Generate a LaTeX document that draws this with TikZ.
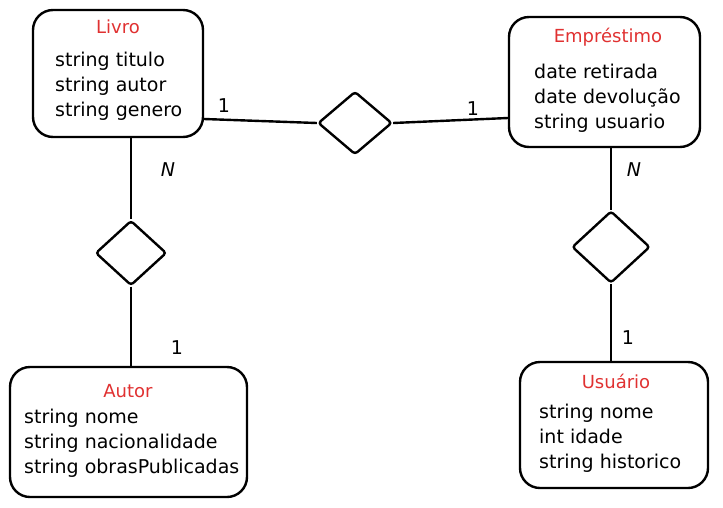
\documentclass[tikz,border=0pt]{standalone}
\usepackage{fontspec}
\setmainfont{DejaVu Sans}
\usetikzlibrary{shapes.geometric}
\definecolor{titlered}{HTML}{E03131}
\tikzset{
  entbox/.style={draw, line width=2.4pt, rounded corners=20pt, inner sep=0pt},
  relbox/.style={draw, diamond, line width=2.4pt, rounded corners=3pt, inner sep=0pt},
  enttitle/.style={text=titlered, font=\fontsize{18}{20}\selectfont},
  attrs/.style={anchor=west, align=left, inner sep=0pt, font=\fontsize{19}{25}\selectfont},
  card/.style={font=\fontsize{19}{21}\selectfont, inner sep=1pt},
  conn/.style={line width=2.4pt}
}
\begin{document}
\begin{tikzpicture}[x=1pt,y=-1pt]
        \useasboundingbox (0,0) rectangle (723,507);
        % entidades
        \node[entbox, minimum width=170, minimum height=127] (livro) at (118,73.5) {};
        \node[enttitle] (livrotitle) at (118,27) {Livro};
        \node[attrs] (livroattr) at (55,86) {string titulo\\string autor\\string genero};
        \node[entbox, minimum width=191, minimum height=130] (emprest) at (604.5,82) {};
        \node[enttitle] (emprestitle) at (608,37) {Empréstimo};
        \node[attrs] (emprestattr) at (534,98) {date retirada\\date devolução\\string usuario};
        \node[entbox, minimum width=237, minimum height=130] (autor) at (128.5,432) {};
        \node[enttitle] (autortitle) at (128,391) {Autor};
        \node[attrs] (autorattr) at (24,443) {string nome\\string nacionalidade\\string obrasPublicadas};
        \node[entbox, minimum width=188, minimum height=126] (usuario) at (614,425) {};
        \node[enttitle] (usuariotitle) at (616,381) {Usuário};
        \node[attrs] (usuarioattr) at (539,438) {string nome\\int idade\\string historico};
        % relacionamentos
        \node[relbox, minimum width=74, minimum height=63] (relemp) at (355,123) {};
        \node[relbox, minimum width=78, minimum height=72] (relusu) at (611,247) {};
        \node[relbox, minimum width=71, minimum height=65] (relaut) at (131,253) {};
        % ligacoes
        \draw[conn] (livro.east |- 0,119) -- (relemp.west);
        \draw[conn] (relemp.east) -- (emprest.west |- 0,118);
        \draw[conn] (relaut.north |- livro.south) -- (relaut.north);
        \draw[conn] (relaut.south) -- (relaut.south |- autor.north);
        \draw[conn] (relusu.north |- emprest.south) -- (relusu.north);
        \draw[conn] (relusu.south) -- (relusu.south |- usuario.north);
        % cardinalidades
        \node[card] (cardlivro) at (224,106) {1};
        \node[card] (cardemp) at (473,109) {1};
        \node[card] (cardlivron) at (168,170) {\itshape N};
        \node[card] (cardautor) at (177,348) {1};
        \node[card] (cardempn) at (634,170) {\itshape N};
        \node[card] (cardusu) at (628,338) {1};
\end{tikzpicture}
\end{document}
